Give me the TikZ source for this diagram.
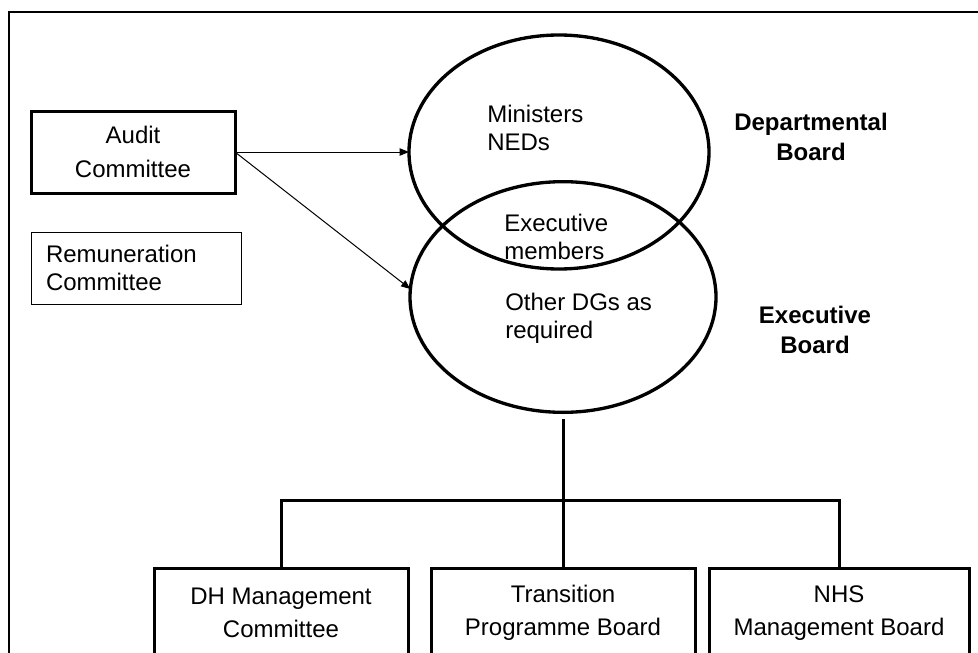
\documentclass[tikz,border=0pt]{standalone}
\usepackage{fontspec}
\setmainfont{Liberation Sans}
\usetikzlibrary{shapes.geometric,arrows.meta}

\begin{document}
\begin{tikzpicture}[x=0.75pt,y=-0.75pt,
  every node/.style={font=\fontsize{18}{21}\selectfont},
  board/.style={draw,ellipse,line width=2.5pt,inner sep=0pt,outer sep=0pt},
  thickbox/.style={draw,line width=2.25pt,align=center,inner sep=0pt,outer sep=0pt,
    font=\fontsize{18}{25}\selectfont},
  memtext/.style={inner sep=0pt,align=left,anchor=west},
  heading/.style={inner sep=0pt,align=center,font=\fontsize{18}{22}\selectfont\bfseries},
  link/.style={line width=0.75pt,-{Triangle[length=7pt,width=5.5pt]}},
  tree/.style={line width=2.25pt}]
  \useasboundingbox (0,0) rectangle (978,653);
  \clip (0,0) rectangle (978,653);
  \draw[line width=1.5pt] (9,12) rectangle (1000,700);

  % the two boards
  \node[board,minimum width=225pt,minimum height=175.5pt] (dept) at (559,152) {};
  \node[board,minimum width=229.5pt,minimum height=173pt] (exec) at (563,297) {};
  \node[memtext] (mins) at (487,128) {Ministers\\NEDs};
  \node[memtext] (execmem) at (504,237) {Executive\\members};
  \node[memtext] (others) at (505,318) {Other DGs as\\required};
  \node[heading] (deptlbl) at (811,137) {Departmental\\Board};
  \node[heading] (execlbl) at (815,330) {Executive\\Board};

  % committees
  \node[thickbox,minimum width=153pt,minimum height=61.5pt] (audit) at (133,152) {Audit\\Committee};
  \node[draw,line width=0.75pt,inner xsep=11.25pt,inner ysep=0pt,text width=135pt,
        minimum height=54pt,align=left] (remun) at (136,268) {Remuneration\\Committee};
  \draw[link] (audit.east) -- (dept.west);
  \draw[link] (audit.east) -- (exec.177);

  % sub-boards
  \node[thickbox,minimum width=190.5pt,minimum height=67.5pt] (dh) at (281,613) {DH Management\\Committee};
  \node[thickbox,minimum width=198pt,minimum height=67.5pt] (trans) at (563,613) {Transition\\Programme Board};
  \node[thickbox,minimum width=195pt,minimum height=67.5pt] (nhs) at (839,613) {NHS\\Management Board};
  \draw[tree,shorten <=5pt] (exec.south) -- (trans.north);
  \draw[tree] (dh.north) -- ++(0,-68) -| (nhs.north);
\end{tikzpicture}
\end{document}
